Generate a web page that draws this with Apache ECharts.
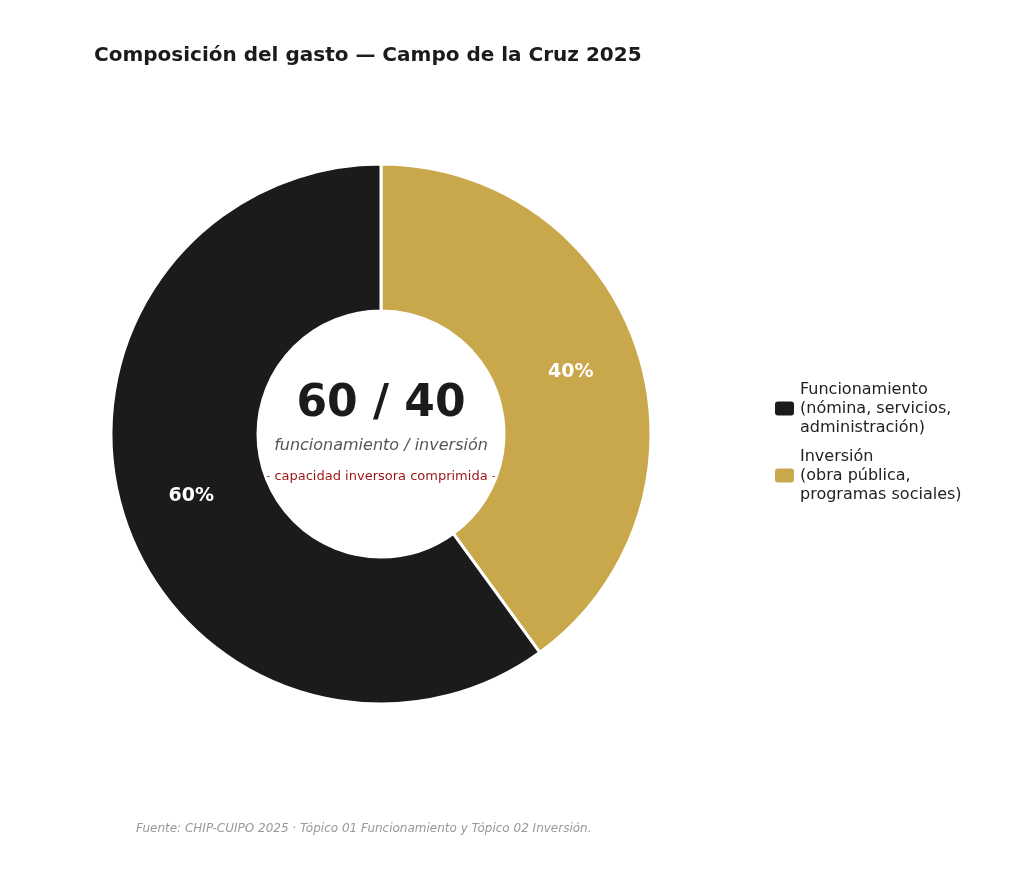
<!DOCTYPE html>
<html><head><meta charset="utf-8">
<script src="https://cdn.jsdelivr.net/npm/echarts@6/dist/echarts.min.js"></script>
<style>html,body{margin:0;background:#fff}#c{width:1024px;height:879px}</style>
</head><body><div id="c"></div>
<script>
const names = ['Inversión', 'Funcionamiento'];
const legendLabels = {
  'Funcionamiento': 'Funcionamiento\n(nómina, servicios,\nadministración)',
  'Inversión': 'Inversión\n(obra pública,\nprogramas sociales)'
};
const values = [40, 60];
const colors = ['#c9a74b', '#1b1b1b'];
const font = 'DejaVu Sans';

const chart = echarts.init(document.getElementById('c'), null, { renderer: 'canvas' });
chart.setOption({
  animation: false,
  textStyle: { fontFamily: font },
  title: {
    text: 'Composición del gasto — Campo de la Cruz 2025',
    left: 89, top: 41,
    textStyle: { fontFamily: font, fontSize: 20, fontWeight: 'bold', color: '#1b1b1b' }
  },
  legend: {
    data: ['Funcionamiento', 'Inversión'],
    orient: 'vertical', left: 768, top: 'middle', top: 375,
    itemWidth: 21, itemHeight: 16, itemGap: 10,
    formatter: n => legendLabels[n],
    textStyle: { fontFamily: font, fontSize: 16, color: '#222', lineHeight: 19 }
  },
  graphic: [
    { type: 'text', left: 'center', top: 383, x: 0, style: { text: '60 / 40', x: 381, font: 'bold 44px DejaVu Sans', fill: '#1b1b1b', align: 'center' }, left: null, top: null, position: [0, 383] },
    { type: 'text', position: [381, 438], style: { text: 'funcionamiento / inversión', font: 'italic 16px DejaVu Sans', fill: '#555', align: 'center' } },
    { type: 'text', position: [381, 470], style: { text: '— capacidad inversora comprimida —', font: '13px DejaVu Sans', fill: '#9b1414', align: 'center' } },
    { type: 'text', position: [136, 823], style: { text: 'Fuente: CHIP-CUIPO 2025 · Tópico 01 Funcionamiento y Tópico 02 Inversión.', font: 'italic 12px DejaVu Sans', fill: '#999' } }
  ],
  series: [{
    type: 'pie',
    center: [381, 434],
    radius: [123, 270],
    startAngle: 90,
    clockwise: true,
    data: names.map((n, i) => ({ name: n, value: values[i], itemStyle: { color: colors[i] } })),
    itemStyle: { borderColor: '#fff', borderWidth: 3 },
    label: {
      position: 'inside', formatter: '{d}%',
      fontFamily: font, fontSize: 19, fontWeight: 'bold', color: '#fff'
    },
    labelLine: { show: false }
  }]
});
</script>
</body></html>
